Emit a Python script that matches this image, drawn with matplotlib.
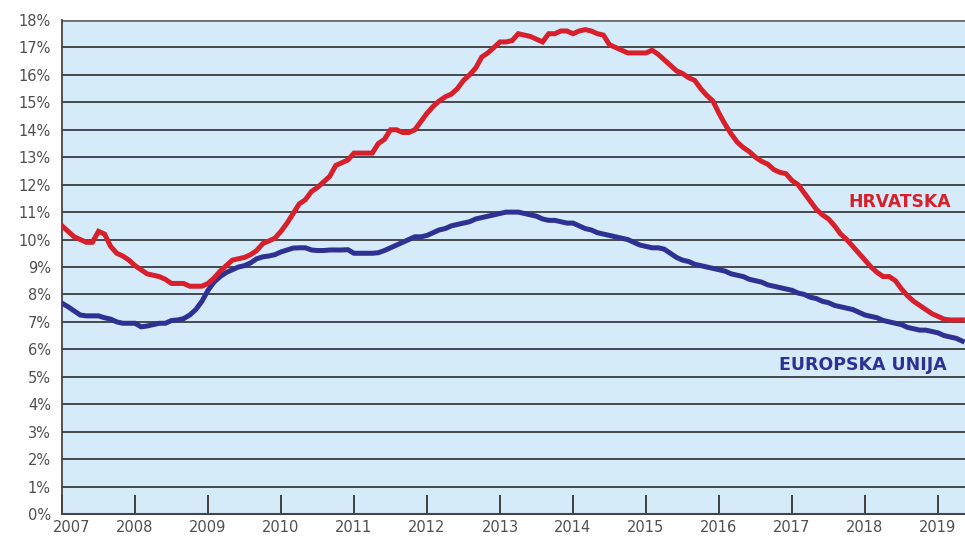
import numpy as np
import matplotlib.pyplot as plt
from matplotlib.transforms import ScaledTranslation

# mjesecni podaci, sijecanj 2007 - svibanj 2019 (stopa nezaposlenosti, %)
hrvatska = [
    10.5, 10.3, 10.1, 10.0, 9.9, 9.9, 10.3, 10.2, 9.75, 9.5, 9.4, 9.25,      # 2007
    9.05, 8.9, 8.75, 8.7, 8.65, 8.55, 8.4, 8.4, 8.4, 8.3, 8.3, 8.3,          # 2008
    8.4, 8.6, 8.85, 9.05, 9.25, 9.3, 9.35, 9.45, 9.6, 9.85, 9.95, 10.05,     # 2009
    10.3, 10.6, 10.95, 11.3, 11.45, 11.75, 11.9, 12.1, 12.3, 12.7, 12.8, 12.9,   # 2010
    13.15, 13.15, 13.15, 13.15, 13.5, 13.65, 14.0, 14.0, 13.9, 13.9, 14.0, 14.3,  # 2011
    14.6, 14.85, 15.05, 15.2, 15.3, 15.5, 15.8, 16.0, 16.25, 16.65, 16.8, 17.0,   # 2012
    17.2, 17.2, 17.25, 17.5, 17.45, 17.4, 17.3, 17.2, 17.5, 17.5, 17.6, 17.6,     # 2013
    17.5, 17.6, 17.65, 17.6, 17.5, 17.45, 17.1, 17.0, 16.9, 16.8, 16.8, 16.8,     # 2014
    16.8, 16.9, 16.75, 16.55, 16.35, 16.15, 16.05, 15.9, 15.8, 15.5, 15.25, 15.05,  # 2015
    14.6, 14.2, 13.85, 13.55, 13.35, 13.2, 13.0, 12.85, 12.75, 12.55, 12.45, 12.4,  # 2016
    12.15, 12.0, 11.7, 11.4, 11.1, 10.9, 10.75, 10.5, 10.2, 10.0, 9.75, 9.5,      # 2017
    9.25, 9.0, 8.8, 8.65, 8.65, 8.5, 8.2, 7.95, 7.75, 7.6, 7.45, 7.3,             # 2018
    7.2, 7.1, 7.07, 7.07, 7.07,                                                    # 2019
]

eu = [
    7.68, 7.55, 7.4, 7.25, 7.22, 7.22, 7.22, 7.15, 7.1, 7.0, 6.95, 6.95,     # 2007
    6.95, 6.82, 6.85, 6.9, 6.95, 6.95, 7.05, 7.07, 7.12, 7.25, 7.45, 7.75,   # 2008
    8.15, 8.45, 8.65, 8.8, 8.9, 9.0, 9.05, 9.15, 9.3, 9.37, 9.4, 9.45,       # 2009
    9.55, 9.62, 9.69, 9.7, 9.7, 9.62, 9.6, 9.6, 9.62, 9.62, 9.62, 9.63,      # 2010
    9.5, 9.5, 9.5, 9.5, 9.52, 9.6, 9.7, 9.8, 9.9, 10.0, 10.1, 10.1,          # 2011
    10.15, 10.25, 10.35, 10.4, 10.5, 10.55, 10.6, 10.65, 10.75, 10.8, 10.85, 10.9,  # 2012
    10.95, 11.0, 11.0, 11.0, 10.95, 10.9, 10.85, 10.75, 10.7, 10.7, 10.65, 10.6,    # 2013
    10.6, 10.5, 10.4, 10.35, 10.25, 10.2, 10.15, 10.1, 10.05, 10.0, 9.9, 9.8,       # 2014
    9.75, 9.7, 9.7, 9.65, 9.5, 9.35, 9.25, 9.2, 9.1, 9.05, 9.0, 8.95,               # 2015
    8.9, 8.85, 8.75, 8.7, 8.65, 8.55, 8.5, 8.45, 8.35, 8.3, 8.25, 8.2,              # 2016
    8.15, 8.05, 8.0, 7.9, 7.85, 7.75, 7.7, 7.6, 7.55, 7.5, 7.45, 7.35,              # 2017
    7.25, 7.2, 7.15, 7.05, 7.0, 6.95, 6.9, 6.8, 6.75, 6.7, 6.7, 6.65,               # 2018
    6.6, 6.5, 6.45, 6.4, 6.3,                                                       # 2019
]

godine = list(range(2007, 2020))
postoci = list(range(0, 19))

crvena = '#d7202b'
plava = '#2e3192'

x = 2007 + np.arange(len(hrvatska)) / 12.0

fig = plt.figure(figsize=(9.65, 5.37), dpi=100)
ax = fig.add_axes([62 / 965, 1 - 514 / 537, 1 - 62 / 965, (514 - 20) / 537])
ax.set_facecolor('#d5ebf9')

for p in postoci[1:]:
    ax.axhline(p, color='#1e1e1e' if p < 18 else '#6d6e71', lw=1.1 if p < 18 else 2, zorder=1)

ax.plot(x, eu, color=plava, lw=3.6, solid_joinstyle='miter', zorder=3)
ax.plot(x, hrvatska, color=crvena, lw=3.6, solid_joinstyle='miter', zorder=3)

ax.set_xlim(2007, 2019.37)
ax.set_ylim(0, 18)
ax.set_yticks(postoci)
ax.set_yticklabels([f'{p}%' for p in postoci])
ax.set_xticks(godine)
ax.set_xticklabels([str(g) for g in godine])

ax.tick_params(axis='y', length=0, pad=8, labelsize=10.5, labelcolor='#505050')
ax.tick_params(axis='x', direction='in', length=14, width=1.3, color='#333333',
               pad=4, labelsize=10.5, labelcolor='#505050')

# prva godina malo udesno
prva = ax.get_xticklabels()[0]
prva.set_transform(prva.get_transform() + ScaledTranslation(10 / 100, 0, fig.dpi_scale_trans))

ax.spines['right'].set_visible(False)
ax.spines['top'].set_visible(False)
ax.spines['left'].set_color('#444444')
ax.spines['left'].set_linewidth(1.3)
ax.spines['bottom'].set_color('#444444')
ax.spines['bottom'].set_linewidth(1.5)

ax.text(2018.48, 11.37, 'HRVATSKA', color=crvena, fontsize=12.3, fontweight='bold',
        ha='center', va='center')
ax.text(2017.97, 5.43, 'EUROPSKA UNIJA', color=plava, fontsize=12.5, fontweight='bold',
        ha='center', va='center')

fig.savefig('out.png', dpi=100)
